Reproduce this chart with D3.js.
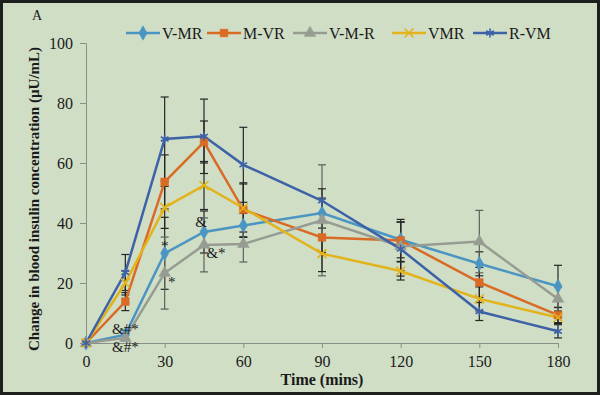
<!DOCTYPE html>
<html>
<head>
<meta charset="utf-8">
<script src="https://cdn.jsdelivr.net/npm/d3@7"></script>
<style>
  body { margin: 0; background: #fff; }
  svg { display: block; font-family: "Liberation Serif", "Times New Roman", serif; }
</style>
</head>
<body>
<svg id="chart" width="600" height="395"></svg>
<script>
const times = [0, 15, 30, 45, 60, 90, 120, 150, 180];
const xTicks = [0, 30, 60, 90, 120, 150, 180];
const yTicks = [0, 20, 40, 60, 80, 100];

const seriesNames = ["V-MR", "M-VR", "V-M-R", "VMR", "R-VM"];
const vmr_dash = [0, 2.8, 29.9, 37.0, 39.2, 43.3, 34.4, 26.4, 18.9];
const mvr = [0, 13.8, 53.7, 67.0, 44.4, 35.2, 34.2, 20.2, 9.3];
const vmr_dash2 = [0, 1.7, 23.3, 32.7, 33.0, 40.9, 32.2, 33.8, 14.7];
const vmr = [0, 20.0, 45.2, 52.5, 45.0, 29.8, 24.0, 14.7, 8.5];
const rvm = [0, 23.5, 68.0, 68.9, 59.4, 47.4, 31.3, 10.5, 3.9];

// standard errors, read from the caps
const vmr_dash_err = [0, 1.5, 12, 7, 4, 5, 6, 4, 7];
const mvr_err = [0, 3, 9, 7, 9, 5, 7, 5, 2.5];
const vmr_dash2_err = [0, 1, 12, 9, 6, 18.5, 8, 10.4, 4];
const vmr_err = [0, 4, 7, 8, 8, 6, 3, 4, 2];
const rvm_err = [0, 6, 14, 12.4, 12.5, 4, 9, 3, 2.2];

const colors = ["#4b95c2", "#d96b25", "#979c93", "#e2b31a", "#3d62a6"];
const symbols = [d3.symbolDiamond, d3.symbolSquare, d3.symbolTriangle, d3.symbolTimes, d3.symbolAsterisk];

// significance marks: [time, value, label]
const notes = [
  [15, 4.6, "&#*"],
  [15, -1.3, "&#*"],
  [30, 32.5, "*"],
  [30, 20.5, "*"],
  [45, 40.3, "&"],
  [45, 30.0, "&*"]
];

const series = seriesNames.map((name, i) => ({
  name,
  color: colors[i],
  symbol: symbols[i],
  values: [vmr_dash, mvr, vmr_dash2, vmr, rvm][i],
  errs: [vmr_dash_err, mvr_err, vmr_dash2_err, vmr_err, rvm_err][i]
}));

const svg = d3.select("#chart");
const width = +svg.attr("width");
const height = +svg.attr("height");

svg.append("rect")
  .attr("x", 1.5).attr("y", 1.5)
  .attr("width", width - 3).attr("height", height - 3)
  .attr("fill", "#d0dec6")
  .attr("stroke", "#1d1f1c")
  .attr("stroke-width", 3);

const x = d3.scaleLinear().domain([0, 180]).range([86, 558]);
const y = d3.scaleLinear().domain([0, 100]).range([343, 43]);

const xAxis = svg.append("g")
  .attr("transform", `translate(0,${y(0)})`)
  .call(d3.axisBottom(x).tickValues(xTicks).tickSize(5).tickSizeOuter(0));
const yAxis = svg.append("g")
  .attr("transform", `translate(${x(0)},0)`)
  .call(d3.axisLeft(y).tickValues(yTicks).tickSize(6).tickSizeOuter(0));

[xAxis, yAxis].forEach(a => {
  a.select(".domain").attr("stroke", "#8a8f86");
  a.selectAll(".tick line").attr("stroke", "#8a8f86");
  a.selectAll("text")
    .attr("fill", "#1a1a1a")
    .style("font-family", "Liberation Serif, serif")
    .style("font-size", "16px");
});
xAxis.selectAll("text").attr("dy", "1em");
yAxis.selectAll("text").attr("x", -13);

svg.append("text")
  .attr("x", x(90)).attr("y", 385)
  .attr("text-anchor", "middle")
  .style("font-size", "16px").style("font-weight", "bold")
  .attr("fill", "#1a1a1a")
  .text("Time (mins)");

svg.append("text")
  .attr("transform", `translate(39,${(y(0) + y(100)) / 2 + 6}) rotate(-90)`)
  .attr("text-anchor", "middle")
  .style("font-size", "15px").style("font-weight", "bold")
  .attr("fill", "#1a1a1a")
  .text("Change in blood insulin concentration (µU/mL)");

svg.append("text")
  .attr("x", 32).attr("y", 20)
  .style("font-size", "14px")
  .attr("fill", "#1a1a1a")
  .text("A");

// error bars
series.forEach(s => {
  const g = svg.append("g")
    .attr("stroke", s.name === "V-M-R" ? "#5e615b" : "#262626")
    .attr("stroke-width", 1.2);
  times.forEach((t, j) => {
    const e = s.errs[j];
    if (!e) return;
    const cx = x(t);
    g.append("line").attr("x1", cx).attr("x2", cx)
      .attr("y1", y(s.values[j] - e)).attr("y2", y(s.values[j] + e));
    [s.values[j] - e, s.values[j] + e].forEach(v => {
      g.append("line").attr("x1", cx - 4).attr("x2", cx + 4)
        .attr("y1", y(v)).attr("y2", y(v));
    });
  });
});

const line = d3.line().x((d, j) => x(times[j])).y(d => y(d));

series.forEach(s => {
  svg.append("path")
    .datum(s.values)
    .attr("fill", "none")
    .attr("stroke", s.color)
    .attr("stroke-width", 2.5)
    .attr("d", line);
});

function marker(sel, s) {
  const stroked = s.symbol === d3.symbolTimes || s.symbol === d3.symbolAsterisk;
  sel.attr("d", d3.symbol().type(s.symbol).size(stroked ? 55 : 60))
    .attr("fill", stroked ? "none" : s.color)
    .attr("stroke", s.color)
    .attr("stroke-width", stroked ? 1.6 : 0.5);
}

series.forEach(s => {
  svg.append("g").selectAll("path")
    .data(s.values)
    .join("path")
    .attr("transform", (d, j) => `translate(${x(times[j])},${y(d)})`)
    .call(marker, s);
});

svg.append("g").selectAll("text")
  .data(notes)
  .join("text")
  .attr("x", d => x(d[0]) + (d[2] === "&*" ? 12 : d[2] === "*" && d[1] < 25 ? 7 : d[2] === "&" ? -3 : 0))
  .attr("y", d => y(d[1]))
  .attr("text-anchor", "middle")
  .attr("dy", "0.35em")
  .style("font-size", "15px")
  .attr("fill", "#1a1a1a")
  .text(d => d[2]);

// legend
const legendX = [126, 207, 293, 392, 473];
const legend = svg.append("g");
series.forEach((s, i) => {
  const lg = legend.append("g").attr("transform", `translate(${legendX[i]},33)`);
  lg.append("line").attr("x1", 0).attr("x2", 34)
    .attr("stroke", s.color).attr("stroke-width", 2.5);
  lg.append("path").attr("transform", "translate(17,0)").call(marker, s);
  lg.append("text").attr("x", 36).attr("dy", "0.35em")
    .style("font-size", "16px").attr("fill", "#1a1a1a")
    .text(s.name);
});
</script>
</body>
</html>
